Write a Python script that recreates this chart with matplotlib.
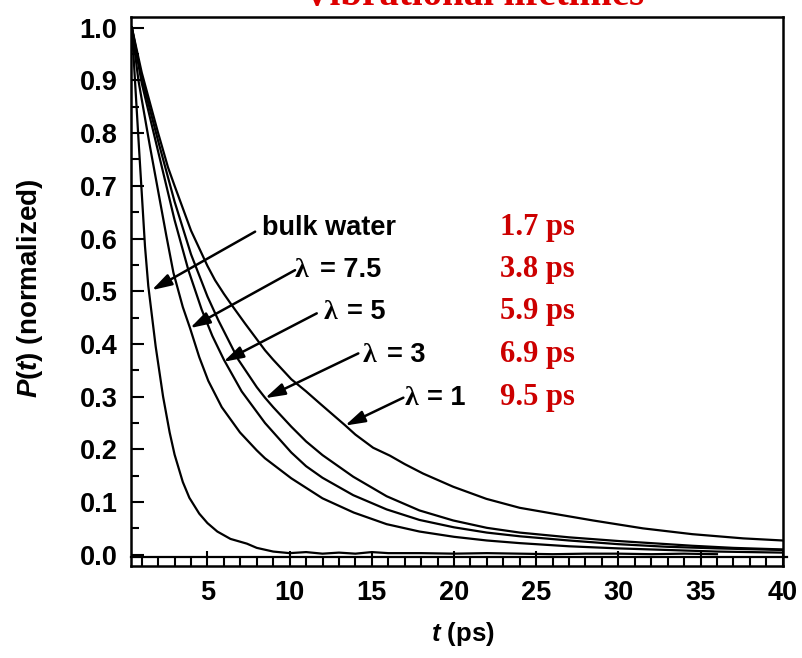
import matplotlib
matplotlib.use("Agg")
import matplotlib.pyplot as plt
from matplotlib.ticker import MultipleLocator
import matplotlib.transforms as mtransforms

plt.rcParams["mathtext.fontset"] = "custom"
plt.rcParams["mathtext.it"] = "Liberation Sans:italic:bold"
plt.rcParams["mathtext.rm"] = "Liberation Sans:bold"
plt.rcParams["mathtext.bf"] = "Liberation Sans:bold"

SANS = "Liberation Sans"
SERIF = "Liberation Serif"
RED = "#cc0000"

# ---- population decay curves P(t) ----
t_bulk = [0.4, 0.8, 1.2, 1.4, 1.85, 2.3, 2.7, 3.0, 3.5, 3.9, 4.5, 5.0, 5.6, 6.4, 7.4, 8.0, 9.0,
          10, 11, 12, 13, 14, 15, 16, 18, 20, 22, 24, 26, 28, 30, 32, 34, 36]
p_bulk = [1.0, 0.79, 0.585, 0.51, 0.395, 0.30, 0.232, 0.19, 0.138, 0.108, 0.078, 0.06, 0.044,
          0.03, 0.021, 0.013, 0.006, 0.003, 0.005, 0.002, 0.004, 0.002, 0.005, 0.003, 0.003,
          0.002, 0.003, 0.002, 0.001, 0.002, 0.002, 0.001, 0.002, 0.001]

t_l75 = [0.4, 0.8, 1.5, 2.0, 2.5, 2.93, 3.5, 3.94, 4.5, 5.05, 5.87, 6.98, 8.0, 8.5, 10.1, 12.0,
         13.9, 15.9, 17.9, 20, 22, 24, 27, 30, 33, 36, 40]
p_l75 = [1.0, 0.90, 0.775, 0.69, 0.605, 0.535, 0.47, 0.43, 0.375, 0.33, 0.28, 0.232, 0.198,
         0.183, 0.145, 0.107, 0.080, 0.058, 0.044, 0.034, 0.027, 0.022, 0.016, 0.012, 0.009,
         0.006, 0.004]

t_l5 = [0.4, 1.0, 2.0, 3.0, 3.84, 4.65, 5.3, 6.0, 7.08, 8.5, 10.1, 11.0, 12.0, 13.87, 15.9, 17.9,
        20.0, 22.0, 24.0, 27.0, 30.0, 33.0, 36.0, 40.0]
p_l5 = [1.0, 0.895, 0.765, 0.635, 0.54, 0.465, 0.415, 0.37, 0.31, 0.25, 0.194, 0.168, 0.146,
        0.113, 0.086, 0.066, 0.052, 0.042, 0.035, 0.027, 0.02, 0.015, 0.012, 0.009]

t_l3 = [0.4, 1.0, 2.0, 3.0, 4.0, 5.0, 5.66, 6.88, 8.0, 8.5, 9.0, 10.1, 11.0, 12.0, 13.87, 15.9,
        17.9, 19.95, 22, 24, 27, 30, 34.5, 37, 40]
p_l3 = [1.0, 0.905, 0.785, 0.67, 0.57, 0.49, 0.445, 0.37, 0.318, 0.298, 0.28, 0.243, 0.215,
        0.189, 0.148, 0.111, 0.084, 0.065, 0.051, 0.042, 0.033, 0.026, 0.017, 0.013, 0.010]

t_l1 = [0.4, 1.0, 2.0, 2.6, 3.0, 4.0, 5.0, 5.46, 6.0, 6.47, 7.28, 8.5, 9.0, 10.1, 11.0, 11.84,
        13.36, 14.0, 15.08, 16.1, 17.0, 18.12, 19.95, 21.97, 24.0, 26.4, 28.46, 31.5, 34.5,
        37.6, 40]
p_l1 = [1.0, 0.915, 0.80, 0.735, 0.70, 0.615, 0.548, 0.521, 0.495, 0.474, 0.439, 0.388, 0.37,
        0.333, 0.31, 0.287, 0.246, 0.228, 0.203, 0.188, 0.172, 0.154, 0.129, 0.106, 0.089,
        0.076, 0.065, 0.05, 0.039, 0.031, 0.027]

series = [(t_bulk, p_bulk), (t_l75, p_l75), (t_l5, p_l5), (t_l3, p_l3), (t_l1, p_l1)]

curve_names = ["bulk water", "= 7.5", "= 5", "= 3", "= 1"]
lifetimes = ["1.7 ps", "3.8 ps", "5.9 ps", "6.9 ps", "9.5 ps"]

# label layout (data coordinates)
label_base_y = [0.6066, 0.527, 0.448, 0.365, 0.284]
lambda_left_x = [None, 10.33, 12.05, 14.43, 17.02]
name_left_x = [8.30, 11.85, 13.47, 15.9, 18.34]
arrow_from = [(7.90, 0.613), (10.33, 0.540), (11.65, 0.458), (14.18, 0.382), (16.92, 0.298)]
arrow_to = [(1.61, 0.502), (3.94, 0.430), (5.97, 0.366), (8.50, 0.297), (13.37, 0.245)]
lifetime_x = 22.8

W, H = 803, 658
fig = plt.figure(figsize=(W / 100, H / 100), dpi=100)
ax = fig.add_axes([130.7 / W, 1 - 566 / H, (782.7 - 130.7) / W, (566 - 17) / H])

for t, p in series:
    ax.plot(t, p, color="black", lw=1.6, solid_joinstyle="round")

# baseline across the frame
blend = mtransforms.blended_transform_factory(ax.transAxes, ax.transData)
ax.plot([0, 1.006], [-0.004, -0.004], color="black", lw=1.6, transform=blend, clip_on=False)

ax.set_xlim(0.33, 40)
ax.set_ylim(-0.0214, 1.0203)

ax.xaxis.set_major_locator(MultipleLocator(5))
ax.xaxis.set_minor_locator(MultipleLocator(1))
ax.yaxis.set_major_locator(MultipleLocator(0.1))
ax.yaxis.set_minor_locator(MultipleLocator(0.05))
ax.yaxis.set_major_formatter(plt.FuncFormatter(lambda v, _: f"{v:.1f}"))
ax.xaxis.set_major_formatter(plt.FuncFormatter(lambda v, _: f"{v:.0f}"))

ax.tick_params(axis="x", which="major", direction="in", length=10.5, width=1.5, pad=10,
               top=False)
ax.tick_params(axis="x", which="minor", direction="in", length=7.2, width=1.5, top=False)
ax.tick_params(axis="y", which="major", direction="in", length=9.5, width=1.5, pad=9.5,
               right=False)
ax.tick_params(axis="y", which="minor", direction="in", length=5.8, width=1.5, right=False)
for lab in ax.get_xticklabels() + ax.get_yticklabels():
    lab.set_fontfamily(SANS)
    lab.set_fontweight("bold")
    lab.set_fontsize(19.5)
for s in ax.spines.values():
    s.set_linewidth(1.8)

# curve labels with arrows
for i in range(5):
    if i > 0:
        ax.text(lambda_left_x[i], label_base_y[i], "\u03bb", family=SERIF, weight="bold",
                fontsize=20, ha="left", va="baseline")
    ax.text(name_left_x[i], label_base_y[i], curve_names[i], family=SANS, weight="bold",
            fontsize=19.5, ha="left", va="baseline")
    ax.annotate("", xy=arrow_to[i], xytext=arrow_from[i],
                arrowprops=dict(arrowstyle="-|>,head_length=0.6,head_width=0.18",
                                mutation_scale=20, lw=1.8, color="black",
                                shrinkA=0, shrinkB=0))
    ax.text(lifetime_x, label_base_y[i], lifetimes[i], family=SERIF, weight="bold",
            fontsize=22, color=RED, ha="left", va="baseline")

fig.text(473.5 / W, 1 - 4.5 / H, "Vibrational lifetimes", family=SERIF, weight="bold",
         fontsize=28, color="#dd0000", ha="center", va="baseline")

fig.text(463 / W, 1 - 634 / H, r"$t$ (ps)", family=SANS, weight="bold", fontsize=18.5,
         ha="center", va="center")
fig.text(30 / W, 1 - 288 / H, r"$P$($t$) (normalized)", family=SANS, weight="bold",
         fontsize=20, ha="center", va="center", rotation=90)

fig.savefig("out.png", dpi=100)
